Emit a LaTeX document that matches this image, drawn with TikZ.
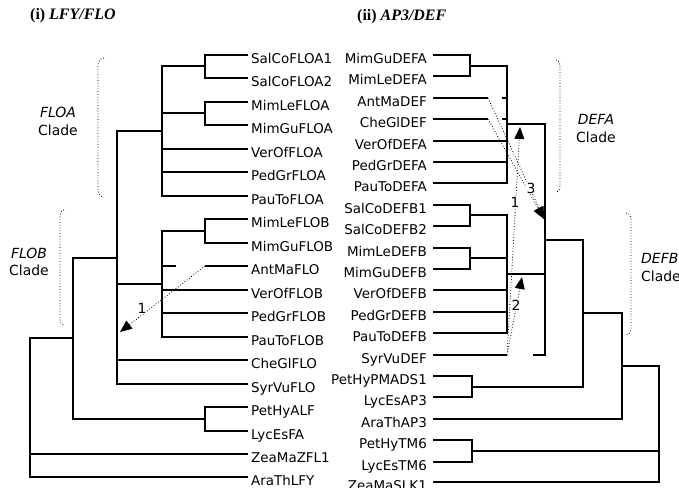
\documentclass[tikz,border=0pt]{standalone}
\usepackage{fontspec}
\setmainfont{Liberation Serif}
\newfontfamily\sansgen{DejaVu Sans}
\usetikzlibrary{arrows.meta}

\begin{document}
\begin{tikzpicture}[x=1bp, y=-1bp,
    branca/.style={line width=2bp},
    salt/.style={dotted, line width=0.8pt, -{Triangle[length=12pt,width=10pt]}},
    fulla/.style={font=\sansgen\fontsize{13.5}{16}\selectfont, inner xsep=3pt, inner ysep=0pt, text height=18pt, text depth=0pt, anchor=west},
    fullaR/.style={fulla, inner xsep=6pt, anchor=east},
    clau/.style={dotted, line width=0.8pt},
    clade/.style={font=\sansgen\fontsize{14}{17.5}\selectfont, align=center},
    num/.style={font=\sansgen\fontsize{14}{16}\selectfont, fill=white, inner sep=1pt},
    titol/.style={font=\fontsize{16}{19}\selectfont\bfseries, anchor=west, inner sep=0pt}]
    \useasboundingbox (0,0) rectangle (679,488);

    % Titols
    \node[titol] (titolA) at (30,16) {(i) \textit{LFY/FLO}};
    \node[titol] (titolB) at (357,17) {(ii) \textit{AP3/DEF}};

    % Arbre (i): fulles
    \node[fulla] (salA1) at (248,55) {SalCoFLOA1};
    \node[fulla] (salA2) at (248,78) {SalCoFLOA2};
    \node[fulla] (mleA) at (248,102) {MimLeFLOA};
    \node[fulla] (mguA) at (248,125) {MimGuFLOA};
    \node[fulla] (verA) at (248,149) {VerOfFLOA};
    \node[fulla] (pedA) at (248,172) {PedGrFLOA};
    \node[fulla] (pauA) at (248,196) {PauToFLOA};
    \node[fulla] (mleB) at (248,219) {MimLeFLOB};
    \node[fulla] (mguB) at (248,243) {MimGuFLOB};
    \node[fulla] (antF) at (248,266) {AntMaFLO};
    \node[fulla] (verB) at (248,290) {VerOfFLOB};
    \node[fulla] (pedB) at (248,313) {PedGrFLOB};
    \node[fulla] (pauB) at (248,337) {PauToFLOB};
    \node[fulla] (cheF) at (248,360) {CheGlFLO};
    \node[fulla] (syrF) at (248,384) {SyrVuFLO};
    \node[fulla] (petF) at (248,407) {PetHyALF};
    \node[fulla] (lycF) at (248,431) {LycEsFA};
    \node[fulla] (zeaF) at (248,454) {ZeaMaZFL1};
    \node[fulla] (araF) at (248,477) {AraThLFY};

    % Arbre (i): nusos
    \coordinate (nSal) at (205,66);
    \coordinate (nMimA) at (205,113);
    \coordinate (nFLOA) at (162,131);
    \coordinate (nMimB) at (205,231);
    \coordinate (nFLOB) at (162,284);
    \coordinate (nMig) at (117,258);
    \coordinate (nSol) at (205,419);
    \coordinate (nBase) at (73,338);
    \coordinate (nArrel) at (30,408);
    \coordinate (antF0) at (205,266);

    \draw[branca] (salA1.west) -| (nSal);
    \draw[branca] (salA2.west) -| (nSal);
    \draw[branca] (mleA.west) -| (nMimA);
    \draw[branca] (mguA.west) -| (nMimA);
    \draw[branca] (nSal) -| (nFLOA);
    \draw[branca] (nMimA) -| (nFLOA);
    \draw[branca] (verA.west) -| (nFLOA);
    \draw[branca] (pedA.west) -| (nFLOA);
    \draw[branca] (pauA.west) -| (nFLOA);
    \draw[branca] (mleB.west) -| (nMimB);
    \draw[branca] (mguB.west) -| (nMimB);
    \draw[branca] (nMimB) -| (nFLOB);
    \draw[branca] (antF0) -- (antF.west);
    \draw[branca] (nFLOB |- antF.west) -- ++(14,0);
    \draw[branca] (verB.west) -| (nFLOB);
    \draw[branca] (pedB.west) -| (nFLOB);
    \draw[branca] (pauB.west) -| (nFLOB);
    \draw[branca] (nFLOA) -| (nMig);
    \draw[branca] (nFLOB) -| (nMig);
    \draw[branca] (cheF.west) -| (nMig);
    \draw[branca] (syrF.west) -| (nMig);
    \draw[branca] (petF.west) -| (nSol);
    \draw[branca] (lycF.west) -| (nSol);
    \draw[branca] (nMig) -| (nBase);
    \draw[branca] (nSol) -| (nBase);
    \draw[branca] (nBase) -| (nArrel);
    \draw[branca] (zeaF.west) -| (nArrel);
    \draw[branca] (araF.west) -| (nArrel);

    % Arbre (i): salt i clades
    \coordinate (puntaE) at (120,332);
    \draw[salt] (antF0) -- (puntaE);
    \node[num] (salt1E) at (142,308) {1};
    \draw[clau] (104,58) to[out=180,in=90] (98,66) -- (98,189) to[out=-90,in=180] (104,197);
    \draw[clau] (64,210) to[out=180,in=90] (60,217) -- (60,318) to[out=-90,in=180] (64,325);
    \node[clade] (cladeFA) at (58,121.5) {\textit{FLOA}\\Clade};
    \node[clade] (cladeFB) at (29,262) {\textit{FLOB}\\Clade};

    % Arbre (ii): fulles
    \node[fullaR] (mguDA) at (433,55) {MimGuDEFA};
    \node[fullaR] (mleDA) at (433,76) {MimLeDEFA};
    \node[fullaR] (antD) at (433,98) {AntMaDEF};
    \node[fullaR] (cheD) at (433,119) {CheGlDEF};
    \node[fullaR] (verDA) at (433,141) {VerOfDEFA};
    \node[fullaR] (pedDA) at (433,162) {PedGrDEFA};
    \node[fullaR] (pauDA) at (433,183) {PauToDEFA};
    \node[fullaR] (salDB1) at (433,205) {SalCoDEFB1};
    \node[fullaR] (salDB2) at (433,226) {SalCoDEFB2};
    \node[fullaR] (mleDB) at (433,248) {MimLeDEFB};
    \node[fullaR] (mguDB) at (433,269) {MimGuDEFB};
    \node[fullaR] (verDB) at (433,290) {VerOfDEFB};
    \node[fullaR] (pedDB) at (433,312) {PedGrDEFB};
    \node[fullaR] (pauDB) at (433,333) {PauToDEFB};
    \node[fullaR] (syrD) at (433,355) {SyrVuDEF};
    \node[fullaR] (petAP) at (433,376) {PetHyPMADS1};
    \node[fullaR] (lycAP) at (433,397) {LycEsAP3};
    \node[fullaR] (araAP) at (433,419) {AraThAP3};
    \node[fullaR] (petTM) at (433,440) {PetHyTM6};
    \node[fullaR] (lycTM) at (433,462) {LycEsTM6};
    \node[fullaR] (zeaS) at (433,482) {ZeaMaSLK1};

    % Arbre (ii): nusos
    \coordinate (dMim) at (470,66);
    \coordinate (dDEFA) at (507,124);
    \coordinate (dSal) at (470,215);
    \coordinate (dMimB) at (470,258);
    \coordinate (dDEFB) at (507,274);
    \coordinate (dNus) at (545,240);
    \coordinate (dAP3) at (472,387);
    \coordinate (dG) at (583,313);
    \coordinate (dH) at (622,366);
    \coordinate (dTM6) at (472,451);
    \coordinate (dArrel) at (659,420);
    \coordinate (antD1) at (488,98);
    \coordinate (cheD1) at (488,119);
    \coordinate (syrD1) at (507,355);
    \coordinate (dSyr) at (533,355);

    \draw[branca] (mguDA.east) -| (dMim);
    \draw[branca] (mleDA.east) -| (dMim);
    \draw[branca] (dMim) -| (dDEFA);
    \draw[branca] (antD.east) -- (antD1);
    \draw[branca] (dDEFA |- antD.east) -- ++(-5,0);
    \draw[branca] (cheD.east) -- (cheD1);
    \draw[branca] (dDEFA |- cheD.east) -- ++(-5,0);
    \draw[branca] (verDA.east) -| (dDEFA);
    \draw[branca] (pedDA.east) -| (dDEFA);
    \draw[branca] (pauDA.east) -| (dDEFA);
    \draw[branca] (salDB1.east) -| (dSal);
    \draw[branca] (salDB2.east) -| (dSal);
    \draw[branca] (mleDB.east) -| (dMimB);
    \draw[branca] (mguDB.east) -| (dMimB);
    \draw[branca] (dSal) -| (dDEFB);
    \draw[branca] (dMimB) -| (dDEFB);
    \draw[branca] (verDB.east) -| (dDEFB);
    \draw[branca] (pedDB.east) -| (dDEFB);
    \draw[branca] (pauDB.east) -| (dDEFB);
    \draw[branca] (syrD.east) -- (syrD1);
    \draw[branca] (dDEFA) -| (dNus);
    \draw[branca] (dDEFB) -| (dNus);
    \draw[branca] (dSyr) -| (dNus);
    \draw[branca] (petAP.east) -| (dAP3);
    \draw[branca] (lycAP.east) -| (dAP3);
    \draw[branca] (dNus) -| (dG);
    \draw[branca] (dAP3) -| (dG);
    \draw[branca] (dG) -| (dH);
    \draw[branca] (araAP.east) -| (dH);
    \draw[branca] (petTM.east) -| (dTM6);
    \draw[branca] (lycTM.east) -| (dTM6);
    \draw[branca] (dH) -| (dArrel);
    \draw[branca] (dTM6) -| (dArrel);
    \draw[branca] (zeaS.east) -| (dArrel);

    % Arbre (ii): salts i clades
    \coordinate (puntaA) at (520,127);
    \coordinate (puntaB) at (522,277);
    \coordinate (puntaC) at (544,219);
    \draw[salt] (syrD1) -- (puntaA);
    \draw[salt] (syrD1) -- (puntaB);
    \draw[salt] (antD1) -- (puntaC);
    \draw[salt] (cheD1) -- (puntaC);
    \node[num] (salt1D) at (515,202) {1};
    \node[num] (salt2D) at (516,305) {2};
    \node[num] (salt3D) at (531,188) {3};
    \draw[clau] (556,60) to[out=0,in=90] (560,67) -- (560,185) to[out=-90,in=0] (556,192);
    \draw[clau] (626,213) to[out=0,in=90] (631,220) -- (631,328) to[out=-90,in=0] (626,335);
    \node[clade] (cladeDA) at (596,128.5) {\textit{DEFA}\\Clade};
    \node[clade, anchor=west, align=left, inner xsep=0pt] (cladeDB) at (641,267.5) {\textit{DEFB}\\Clade};
\end{tikzpicture}
\end{document}
